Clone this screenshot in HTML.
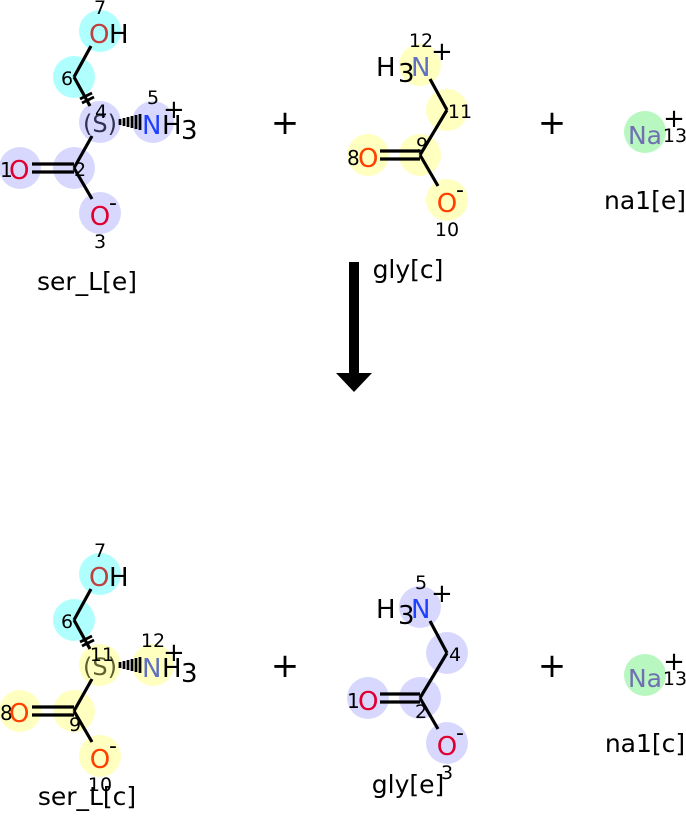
<!DOCTYPE html>
<html><head><meta charset="utf-8"><style>
html,body{margin:0;padding:0;background:#fff}
svg{display:block}
text{font-family:"DejaVu Sans","Liberation Sans",sans-serif}
</style></head><body>
<svg width="686" height="840" viewBox="0 0 686 840" xmlns="http://www.w3.org/2000/svg">
<!-- ===== TOP ser_L[e] ===== -->
<g>
<circle cx="100" cy="31" r="21" fill="#b0ffff"/>
<circle cx="74" cy="77" r="21" fill="#b0ffff"/>
<circle cx="100" cy="122" r="21" fill="#d8d8ff"/>
<circle cx="153" cy="122" r="21" fill="#d8d8ff"/>
<circle cx="20" cy="168" r="21" fill="#d8d8ff"/>
<circle cx="74" cy="168" r="21" fill="#d8d8ff"/>
<circle cx="100" cy="213" r="21" fill="#d8d8ff"/>
<g stroke="#000" stroke-width="3.2" fill="none">
<line x1="91" y1="46" x2="74" y2="77"/>
<line x1="74" y1="77" x2="90" y2="106"/>
<line x1="92" y1="136" x2="74" y2="168"/>
<line x1="74" y1="168" x2="92" y2="199"/>
<line x1="32" y1="164" x2="74" y2="164"/>
<line x1="32" y1="172" x2="74" y2="172"/>
</g>
<g stroke="#000" stroke-width="2.8">
<line x1="80" y1="99" x2="92" y2="93"/><line x1="82" y1="103" x2="94" y2="97"/>
<line x1="120" y1="119" x2="120" y2="125"/><line x1="124" y1="118" x2="124" y2="126"/>
<line x1="128" y1="117" x2="128" y2="127"/><line x1="132" y1="116" x2="132" y2="128"/>
<line x1="136" y1="115" x2="136" y2="129"/><line x1="140" y1="114" x2="140" y2="130"/>
</g>
<text x="100" y="14" font-size="19" text-anchor="middle">7</text>
<text x="89" y="43" font-size="26" fill="#c04040">O</text><text x="109" y="43" font-size="26">H</text>
<text x="67" y="85" font-size="19" text-anchor="middle">6</text>
<text x="100" y="132" font-size="24" text-anchor="middle" fill="#303050">(S)</text>
<text x="101" y="118" font-size="19" text-anchor="middle">4</text>
<text x="153" y="104" font-size="19" text-anchor="middle">5</text>
<text x="142" y="134" font-size="26" fill="#2040ff">N</text><text x="162" y="134" font-size="26">H</text>
<text x="181" y="139" font-size="26">3</text>
<text x="163" y="118" font-size="26">+</text>
<text x="0" y="177" font-size="20">1</text>
<text x="9" y="179" font-size="26" fill="#e00030">O</text>
<text x="80" y="176" font-size="19" text-anchor="middle">2</text>
<text x="100" y="225" font-size="26" text-anchor="middle" fill="#e00030">O</text>
<text x="109" y="210" font-size="22">-</text>
<text x="100" y="248" font-size="19" text-anchor="middle">3</text>
<text x="87" y="290" font-size="25" text-anchor="middle">ser_L[e]</text>
</g>

<!-- ===== TOP gly[c] ===== -->
<g>
<circle cx="420" cy="65" r="21" fill="#ffffc0"/>
<circle cx="447" cy="110" r="21" fill="#ffffc0"/>
<circle cx="420" cy="155" r="21" fill="#ffffc0"/>
<circle cx="368" cy="155" r="21" fill="#ffffc0"/>
<circle cx="447" cy="200" r="21" fill="#ffffc0"/>
<g stroke="#000" stroke-width="3.2">
<line x1="430" y1="79" x2="447" y2="110"/>
<line x1="447" y1="110" x2="420" y2="155"/>
<line x1="420" y1="155" x2="438" y2="186"/>
<line x1="380" y1="151" x2="420" y2="151"/>
<line x1="380" y1="159" x2="420" y2="159"/>
</g>
<text x="421" y="47" font-size="19" text-anchor="middle">12</text>
<text x="376" y="76" font-size="26">H</text><text x="398" y="82" font-size="26">3</text>
<text x="411" y="76" font-size="26" fill="#6070c0">N</text>
<text x="431" y="60" font-size="26">+</text>
<text x="460" y="118" font-size="19" text-anchor="middle">11</text>
<text x="347" y="165" font-size="20">8</text>
<text x="358" y="167" font-size="26" fill="#ff4000">O</text>
<text x="422" y="151" font-size="19" text-anchor="middle">9</text>
<text x="447" y="212" font-size="26" text-anchor="middle" fill="#ff4000">O</text>
<text x="456" y="197" font-size="22">-</text>
<text x="447" y="236" font-size="19" text-anchor="middle">10</text>
<text x="408" y="278" font-size="25" text-anchor="middle">gly[c]</text>
</g>

<!-- ===== TOP Na ===== -->
<circle cx="645" cy="132" r="21" fill="#b8f8c0"/>
<text x="645" y="144" font-size="25" text-anchor="middle" fill="#7070b0">Na</text>
<text x="674" y="127" font-size="26" text-anchor="middle">+</text>
<text x="675" y="142" font-size="19" text-anchor="middle">13</text>
<text x="645" y="209" font-size="25" text-anchor="middle">na1[e]</text>

<text x="285" y="134" font-size="34" text-anchor="middle">+</text>
<text x="552" y="134" font-size="34" text-anchor="middle">+</text>

<!-- arrow -->
<rect x="349" y="262" width="10" height="113" fill="#000"/>
<polygon points="336,373 372,373 354,392" fill="#000"/>

<!-- ===== BOTTOM ser_L[c] ===== -->
<g>
<circle cx="100" cy="574" r="21" fill="#b0ffff"/>
<circle cx="74" cy="620" r="21" fill="#b0ffff"/>
<circle cx="100" cy="665" r="21" fill="#ffffc0"/>
<circle cx="153" cy="665" r="21" fill="#ffffc0"/>
<circle cx="20" cy="711" r="21" fill="#ffffc0"/>
<circle cx="74" cy="711" r="21" fill="#ffffc0"/>
<circle cx="100" cy="756" r="21" fill="#ffffc0"/>
<g stroke="#000" stroke-width="3.2" fill="none">
<line x1="91" y1="589" x2="74" y2="620"/>
<line x1="74" y1="620" x2="90" y2="649"/>
<line x1="92" y1="679" x2="74" y2="711"/>
<line x1="74" y1="711" x2="92" y2="742"/>
<line x1="32" y1="707" x2="74" y2="707"/>
<line x1="32" y1="715" x2="74" y2="715"/>
</g>
<g stroke="#000" stroke-width="2.8">
<line x1="80" y1="642" x2="92" y2="636"/><line x1="82" y1="646" x2="94" y2="640"/>
<line x1="120" y1="662" x2="120" y2="668"/><line x1="124" y1="661" x2="124" y2="669"/>
<line x1="128" y1="660" x2="128" y2="670"/><line x1="132" y1="659" x2="132" y2="671"/>
<line x1="136" y1="658" x2="136" y2="672"/><line x1="140" y1="657" x2="140" y2="673"/>
</g>
<text x="100" y="557" font-size="19" text-anchor="middle">7</text>
<text x="89" y="586" font-size="26" fill="#c04040">O</text><text x="109" y="586" font-size="26">H</text>
<text x="67" y="628" font-size="19" text-anchor="middle">6</text>
<text x="100" y="675" font-size="24" text-anchor="middle" fill="#606030">(S)</text>
<text x="102" y="661" font-size="19" text-anchor="middle">11</text>
<text x="153" y="647" font-size="19" text-anchor="middle">12</text>
<text x="142" y="677" font-size="26" fill="#6070c0">N</text><text x="162" y="677" font-size="26">H</text>
<text x="181" y="682" font-size="26">3</text>
<text x="163" y="661" font-size="26">+</text>
<text x="0" y="720" font-size="20">8</text>
<text x="9" y="722" font-size="26" fill="#ff4000">O</text>
<text x="75" y="731" font-size="19" text-anchor="middle">9</text>
<text x="100" y="768" font-size="26" text-anchor="middle" fill="#ff4000">O</text>
<text x="109" y="753" font-size="22">-</text>
<text x="100" y="791" font-size="19" text-anchor="middle">10</text>
<text x="87" y="805" font-size="25" text-anchor="middle">ser_L[c]</text>
</g>

<!-- ===== BOTTOM gly[e] ===== -->
<g>
<circle cx="420" cy="607" r="21" fill="#d8d8ff"/>
<circle cx="447" cy="653" r="21" fill="#d8d8ff"/>
<circle cx="420" cy="698" r="21" fill="#d8d8ff"/>
<circle cx="368" cy="698" r="21" fill="#d8d8ff"/>
<circle cx="447" cy="743" r="21" fill="#d8d8ff"/>
<g stroke="#000" stroke-width="3.2">
<line x1="430" y1="621" x2="447" y2="653"/>
<line x1="447" y1="653" x2="420" y2="698"/>
<line x1="420" y1="698" x2="438" y2="729"/>
<line x1="380" y1="694" x2="420" y2="694"/>
<line x1="380" y1="702" x2="420" y2="702"/>
</g>
<text x="421" y="589" font-size="19" text-anchor="middle">5</text>
<text x="376" y="618" font-size="26">H</text><text x="398" y="624" font-size="26">3</text>
<text x="411" y="618" font-size="26" fill="#2040ff">N</text>
<text x="431" y="602" font-size="26">+</text>
<text x="455" y="661" font-size="19" text-anchor="middle">4</text>
<text x="347" y="708" font-size="20">1</text>
<text x="358" y="710" font-size="26" fill="#e00030">O</text>
<text x="421" y="718" font-size="19" text-anchor="middle">2</text>
<text x="447" y="755" font-size="26" text-anchor="middle" fill="#e00030">O</text>
<text x="456" y="740" font-size="22">-</text>
<text x="447" y="779" font-size="19" text-anchor="middle">3</text>
<text x="408" y="793" font-size="25" text-anchor="middle">gly[e]</text>
</g>

<!-- ===== BOTTOM Na ===== -->
<circle cx="645" cy="675" r="21" fill="#b8f8c0"/>
<text x="645" y="687" font-size="25" text-anchor="middle" fill="#7070b0">Na</text>
<text x="674" y="670" font-size="26" text-anchor="middle">+</text>
<text x="675" y="685" font-size="19" text-anchor="middle">13</text>
<text x="645" y="752" font-size="25" text-anchor="middle">na1[c]</text>

<text x="285" y="677" font-size="34" text-anchor="middle">+</text>
<text x="552" y="677" font-size="34" text-anchor="middle">+</text>
</svg>
</body></html>
